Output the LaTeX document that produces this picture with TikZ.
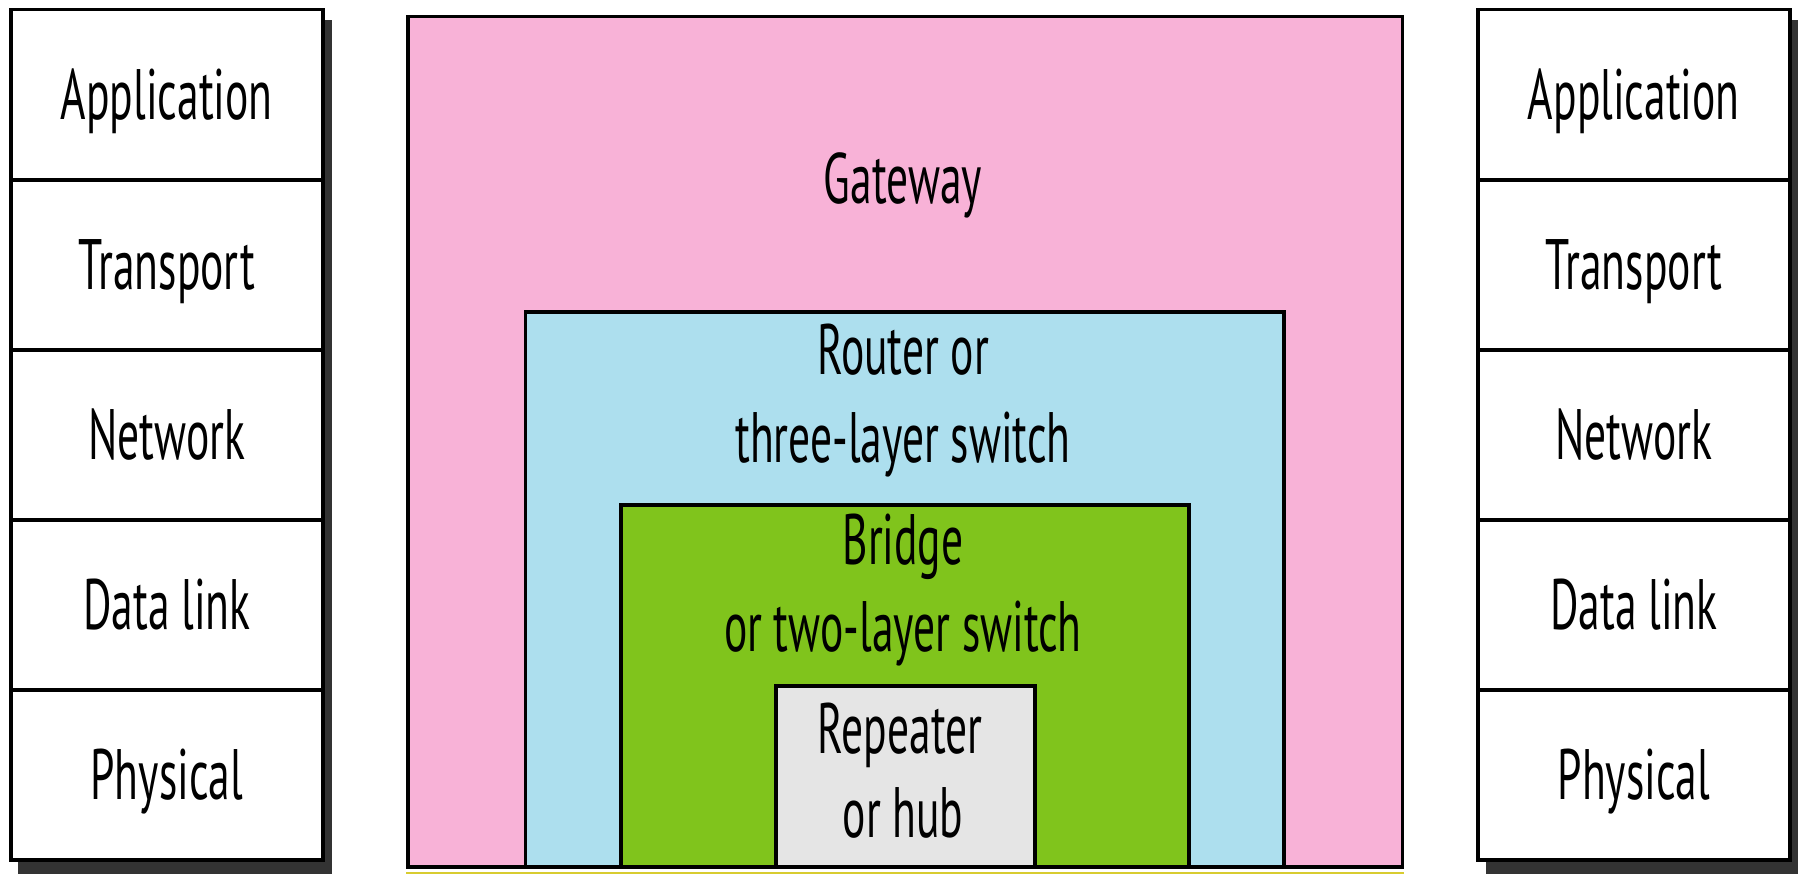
\documentclass[tikz,border=0pt]{standalone}
\usepackage{fontspec}
\setmainfont[FakeStretch=0.61]{PT Sans}
\definecolor{gwpink}{HTML}{F8B2D7}
\definecolor{rtblue}{HTML}{ADDFEE}
\definecolor{brgreen}{HTML}{80C41C}
\definecolor{rpgray}{HTML}{E5E5E5}
\definecolor{stackshadow}{HTML}{333333}
\definecolor{edgeyellow}{HTML}{D8CC30}
\begin{document}
\begin{tikzpicture}[x=0.01cm,y=-0.01cm,
  txt/.style={font=\fontsize{20.3}{25}\selectfont},
  layer/.style={txt, draw=black, line width=1pt, fill=white,
    minimum width=3.12cm, minimum height=1.70cm, inner sep=0,
    text height=0.5cm, text depth=0cm, anchor=north west},
  device/.style={draw=black, line width=1pt, inner sep=0, anchor=north west},
  lbl/.style={txt, anchor=base, inner sep=0}]
\useasboundingbox (0,0) rectangle (1800,874);

% drop shadows behind the two protocol stacks
\fill[stackshadow] (18,20) rectangle (332,874);
\fill[stackshadow] (1486,20) rectangle (1798,874);

% left protocol stack
\node[layer] (la) at (9,8)   {Application};
\node[layer] (lt) at (9,178) {Transport};
\node[layer] (ln) at (9,348) {Network};
\node[layer] (ld) at (9,518) {Data link};
\node[layer] (lp) at (9,688) {Physical};

% right protocol stack
\node[layer] (ra) at (1476,8)   {Application};
\node[layer] (rt) at (1476,178) {Transport};
\node[layer] (rn) at (1476,348) {Network};
\node[layer] (rd) at (1476,518) {Data link};
\node[layer] (rp) at (1476,688) {Physical};

% nested connecting devices
\node[device, fill=gwpink, minimum width=9.94cm, minimum height=8.50cm] (gw) at (406,15) {};
\node[device, fill=rtblue, minimum width=7.585cm, minimum height=5.55cm] (rtr) at (523.5,310) {};
\node[device, fill=brgreen, minimum width=5.68cm, minimum height=3.62cm] (brg) at (619,503) {};
\node[device, fill=rpgray, minimum width=2.59cm, minimum height=1.81cm] (rep) at (774,684) {};

\draw[edgeyellow, line width=1.2pt] ([yshift=-1.4pt]gw.south west) -- ([yshift=-1.4pt]gw.south east);

% device labels
\node[lbl] (gwA) at (903,204) {Gateway};
\node[lbl] (rtA) at (903,375) {Router or};
\node[lbl] (rtB) at (903,463) {three-layer switch};
\node[lbl] (brA) at (903,565) {Bridge};
\node[lbl] (brB) at (903,652) {or two-layer switch};
\node[lbl] (rpA) at (900,754) {Repeater};
\node[lbl] (rpB) at (903,838) {or hub};
\end{tikzpicture}
\end{document}
